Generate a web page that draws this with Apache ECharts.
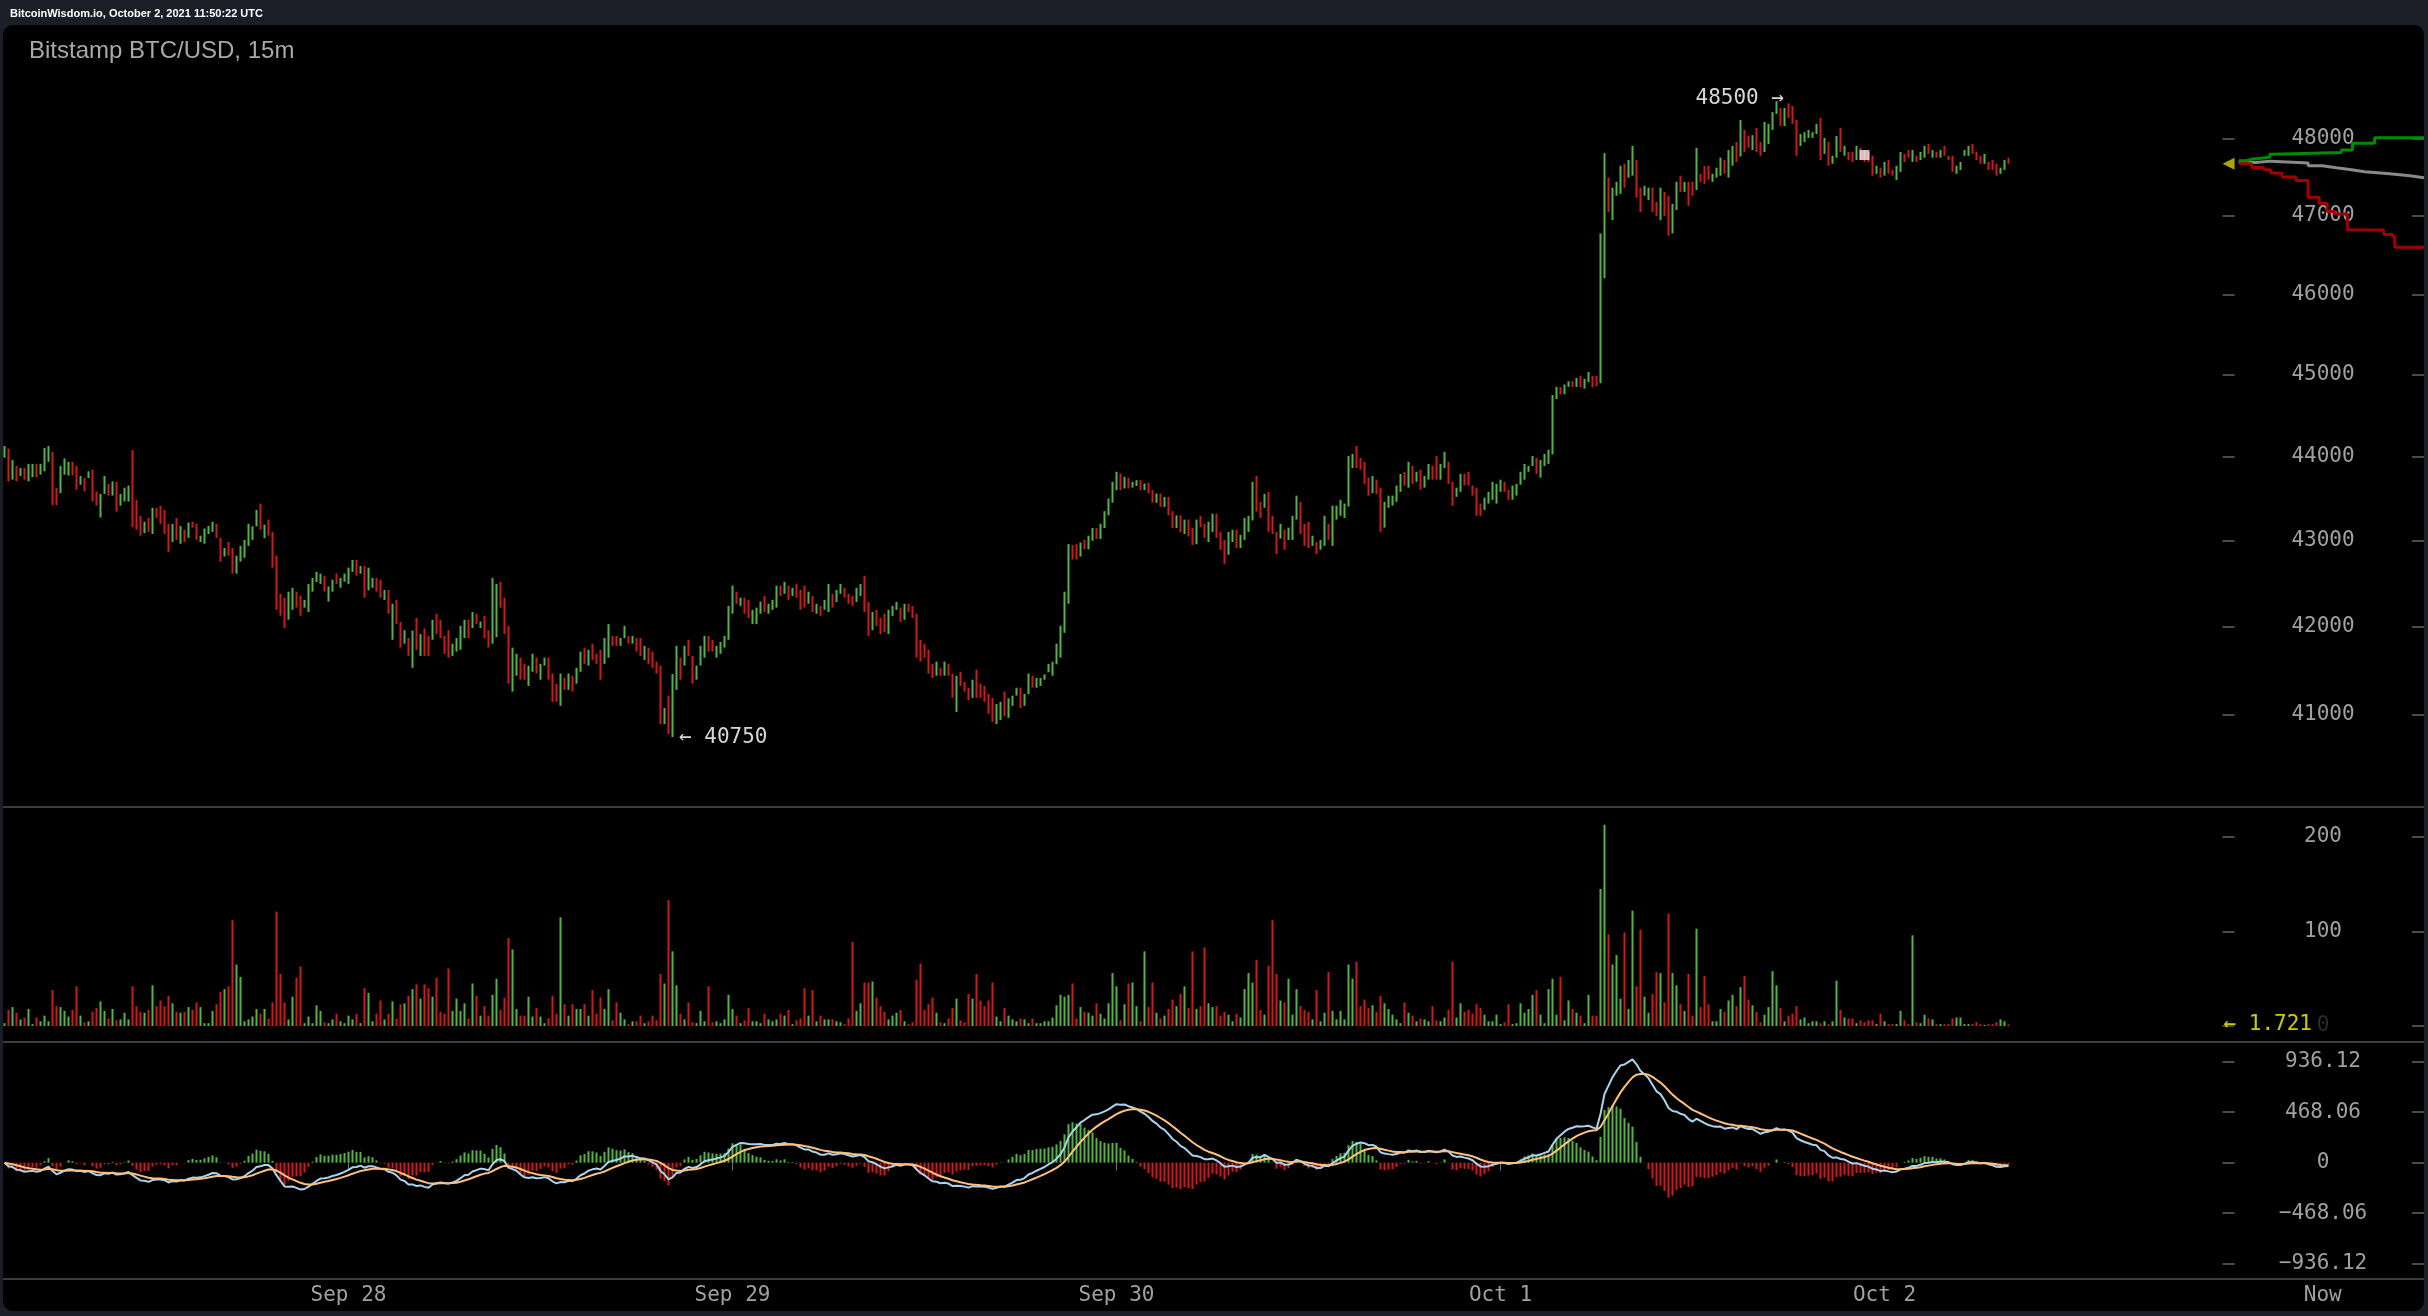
<!DOCTYPE html>
<html><head><meta charset="utf-8">
<script src="https://cdn.jsdelivr.net/npm/echarts@6/dist/echarts.min.js"></script>
<style>
html,body{margin:0;padding:0;background:#1b1e27;width:2428px;height:1316px;overflow:hidden}
#panel{position:absolute;left:3px;top:25px;width:2421px;height:1286px;background:#000;border-radius:10px}
#chart{position:absolute;left:0;top:0;width:2428px;height:1316px}
</style></head><body>
<div id="panel"></div><div id="chart"></div>
<script>
// ---------- DATA (15m candles, Bitstamp BTC/USD) ----------
const opens = [
43990,44100,43725,43890,43770,43865,43705,43755,43915,43785,
43825,43940,44060,43625,43565,43785,43775,43940,43890,43665,
43745,43745,43845,43585,43275,43555,43675,43535,43700,43415,
43465,43465,44080,43485,43295,43090,43270,43080,43390,43415,
43365,43200,42985,43270,42965,43130,43035,43225,43200,42985,
42965,43080,43105,43200,43035,42815,42985,42915,42615,42755,
42800,42940,43010,43170,43440,43030,43250,43105,42825,42380,
42335,42080,42195,42405,42360,42220,42170,42405,42515,42495,
42590,42290,42405,42615,42450,42520,42495,42635,42775,42615,
42705,42420,42450,42565,42545,42310,42425,41850,42310,42055,
41805,41870,41530,42100,
41665,41980,41895,41850,42150,42080,41895,41960,41665,41715,
41735,41870,42080,41985,42150,41985,42125,41960,41805,41880,
42520,42335,42010,41260,41440,41645,41575,41325,41485,41645,
41395,41555,41645,41465,41350,41100,41415,41280,41440,41350,
41485,41760,41555,41805,41690,41735,41575,41645,41895,41895,
41780,41870,41895,41805,41870,41870,41620,41760,41715,41600,
41555,40895,41215,40750,41280,41645,41555,41850,41665,41395,
41555,41645,41895,41850,41645,41690,41760,41850,42150,42405,
42240,42335,42310,42030,42030,42150,42355,42150,42195,42220,
42475,42380,42475,42355,42495,42425,42475,42265,42355,42150,
42240,42195,42170,42380,42285,42380,42450,42380,42355,42285,
42355,42590,42285,41960,42195,42100,42150,41915,42125,42195,
42220,42080,42265,42240,42150,41850,41805,41735,41575,41440,
41530,41440,41575,41465,41030,41485,41370,41305,41190,41510,
41350,41325,41235,41190,40895,40940,41260,40965,41100,41215,
41305,41100,41230,41440,41305,41325,41395,41480,41440,41570,
41645,41930,42265,
42950,42960,42815,43010,42900,43000,43150,43020,43150,43300,
43450,43600,43800,43620,43750,43630,43650,43720,43600,43690,
43600,43450,43560,43400,43520,43350,43150,43300,43080,43250,
43150,42960,
43295,43200,42985,43105,43320,43105,43010,42835,42985,43130,
42915,43010,43105,43240,43770,43460,43390,43580,43295,43105,
43025,43130,43010,43010,43250,43460,43200,43225,42940,42985,
42895,42940,43200,42940,43250,43295,43270,43405,43865,44130,
43985,43940,43750,43565,43725,43630,43155,43390,43415,43460,
43580,43820,43630,43890,43700,43845,43630,43725,43890,44010,
43725,43865,43940,43700,43520,43580,43795,43820,43655,43630,
43440,43365,43440,43485,43440,43580,43700,43605,43485,43535,
43665,43725,43820,43890,43985,43750,43890,43915,44030,
44700,44850,44760,44850,44920,44850,
44985,44830,44910,44985,44985,44895,46205,47495,46945,47260,
47285,47675,47495,47520,47725,47365,47260,47205,47365,47180,
46945,47310,47260,46775,47075,47520,47310,47440,47440,47335,
47545,47650,47650,47440,47495,47520,47725,47495,47650,47960,
47770,48120,48040,47855,48145,47960,47830,47935,48120,48330,
48410,48170,48470,48435,48250,47910,47960,48015,48015,48065,
48275,47805,47960,47675,47755,48145,47780,47830,47830,47725,
47885,47855,47830,47780,47545,47625,47520,47725,47595,47465,
47570,47805,47855,47700,47780,47725,47755,47935,47755,47830,
47755,47910,47780,47780,47545,47595,47780,47780,47935,47830,
47780,47675,47700,47725,47675,47545,47595,47755
];
const closes = [
44130,43705,43960,43705,43865,43725,43915,43915,43755,43915,
44105,44130,43420,43420,43890,43980,43940,43775,43605,43770,
43585,43825,43465,43415,43555,43770,43535,43705,43345,43555,
43630,43655,43160,43130,43060,43225,43105,43390,43270,43200,
43080,42870,43200,43010,43175,42985,43215,43155,43010,43060,
43145,43175,43225,43035,42755,42915,42825,42615,42825,42940,
43010,43200,43170,43365,43130,43190,43060,42685,42195,42125,
41985,42405,42450,42220,42125,42310,42495,42565,42635,42615,
42405,42465,42545,42495,42565,42615,42685,42775,42590,42705,
42335,42685,42565,42405,42335,42425,42150,42265,42030,41760,
41960,41665,41955,41735,
41915,41665,41665,42080,41915,41870,41690,41645,41805,41870,
42010,42080,41870,42170,42030,42060,41870,41760,42565,42495,
42220,41915,41350,41760,41690,41395,41395,41555,41690,41465,
41575,41645,41395,41145,41145,41465,41280,41465,41260,41530,
41715,41575,41735,41620,41575,41395,41870,42030,41780,41780,
41870,42010,41805,41895,41715,41665,41780,41575,41530,41465,
40895,41075,40785,41460,41780,41395,41780,41665,41350,41555,
41780,41895,41715,41715,41780,41825,41895,42240,42475,42265,
42335,42150,42100,42195,42220,42290,42170,42265,42310,42475,
42355,42520,42310,42450,42335,42195,42220,42405,42170,42265,
42125,42310,42495,42220,42425,42495,42335,42265,42240,42450,
42495,42170,41895,42170,42010,41915,41940,42195,42240,42285,
42055,42265,42170,42100,41645,41600,41645,41465,41415,41600,
41440,41600,41440,41190,41440,41325,41260,41165,41395,41190,
41190,41145,41010,40920,41120,41145,40985,41185,41215,41305,
41075,41235,41465,41305,41415,41415,41455,41575,41600,41805,
42010,42405,42960,
42780,42780,42980,42900,43060,43150,43020,43200,43350,43500,
43700,43820,43600,43760,43620,43700,43720,43600,43680,43560,
43450,43560,43400,43520,43300,43150,43300,43100,43250,43050,
42950,43250,
43160,43035,43225,43320,43035,42895,42730,43105,43130,42915,
43070,43270,43295,43700,43345,43270,43555,43105,43080,42845,
43200,42895,43155,43295,43535,43080,42940,42915,43060,42845,
43010,43295,43010,43415,43415,43485,43440,44010,44035,43865,
43845,43675,43535,43770,43555,43105,43460,43535,43535,43655,
43795,43655,43940,43675,43820,43605,43770,43915,43725,43725,
43915,44060,43675,43415,43630,43795,43655,43655,43535,43295,
43295,43510,43580,43700,43675,43725,43580,43485,43655,43675,
43820,43915,43890,44010,43795,43960,44035,44085,44750,
44850,44760,44880,44920,44850,44960,
44845,44950,45035,44845,44860,46775,47815,47050,47365,47440,
47650,47365,47725,47910,47235,47050,47390,47365,47050,47000,
47365,47000,46745,47155,47440,47310,47440,47130,47260,47885,
47440,47415,47465,47545,47625,47755,47545,47855,47910,47700,
48250,47830,47885,48050,47830,47780,48225,48200,48355,48500,
48170,48410,48275,48200,47780,48065,48090,48120,48090,48200,
47725,48015,47650,47780,48040,47830,47910,47725,47700,47910,
47725,47700,47700,47520,47650,47495,47700,47545,47520,47650,
47830,47700,47755,47855,47700,47830,47910,47805,47855,47755,
47855,47780,47725,47570,47650,47700,47855,47910,47805,47725,
47675,47805,47595,47595,47520,47625,47725,47675
];
const volumes = [
3,17,20,14,7,9,18,2,9,5,11,5,38,21,20,16,10,17,42,11,
4,5,15,19,26,16,8,18,6,7,14,7,42,21,15,14,17,43,21,27,
21,32,24,15,14,15,20,17,25,20,3,3,16,23,36,39,42,112,65,52,
5,7,10,18,13,18,8,25,121,55,25,7,31,51,63,3,10,3,22,16,
4,3,7,13,5,3,11,7,13,3,40,35,5,13,27,7,13,26,8,23,
24,32,39,44,29,44,40,31,51,15,13,61,16,29,16,24,8,45,32,11,
21,11,33,50,17,30,93,81,18,11,11,31,10,19,10,3,8,32,13,115,
23,11,23,18,18,23,11,38,13,30,18,39,6,25,14,7,2,5,5,11,
3,5,11,6,55,45,133,79,43,13,7,25,4,3,16,5,42,4,5,3,
7,33,18,11,3,6,19,5,5,3,13,7,5,7,13,11,17,2,6,8,
40,11,38,5,11,7,7,7,5,4,2,8,89,16,24,46,46,47,30,21,
15,7,11,14,17,5,2,4,49,66,17,23,30,14,4,3,8,19,29,6,
4,34,29,55,27,21,27,46,10,5,19,11,
7,5,8,7,3,8,3,3,5,5,9,22,33,31,33,45,8,20,15,14,
11,24,13,8,24,56,42,6,23,45,46,21,5,79,20,46,14,8,11,18,
28,21,34,42,19,79,18,21,83,24,20,21,11,15,12,5,13,9,39,56,
46,70,17,12,64,112,55,27,25,50,12,39,21,17,15,7,38,5,14,57,
16,7,16,7,65,50,68,21,28,19,22,15,32,24,18,12,7,3,25,14,
11,5,8,7,5,21,6,5,9,17,68,9,24,15,17,13,23,19,12,5,
5,12,2,4,23,2,3,24,14,18,33,38,12,3,39,50,12,52,6,27,
18,14,11,3,33,11,11,145,213,97,65,75,29,99,18,122,42,102,31,14,
34,57,56,25,119,56,43,23,16,55,11,103,20,53,23,5,5,18,15,27,
33,21,41,53,28,22,15,4,12,20,58,43,19,5,11,13,21,7,9,3,
5,5,3,5,2,5,48,17,9,8,8,3,6,4,6,6,2,13,5,2,
2,2,16,6,2,96,4,3,12,8,7,2,2,2,2,8,9,9,2,2,
2,4,2,1,2,2,4,7,5,1.721
];
const dayLabels = ['Sep 28','Sep 29','Sep 30','Oct 1','Oct 2'];
const dayIndex  = [86, 182, 278, 374, 470];
const priceTicks = [41000,42000,43000,44000,45000,46000,47000,48000];
const volumeTicks = [0,100,200];
const macdTicks = [-936.12,-468.06,0,468.06,936.12];
// order-book depth (cumulative depth units, price)
const askSteps = [[16,47714],[24,47736],[29,47762],[47,47800],[51,47822],[118,47857],[129,47944],[151,48017],[200,48017]];
const midSteps = [[16,47692],[33,47710],[48,47684],[85,47649],[99,47623],[113,47597],[128,47571],[141,47545],[166,47519],[186,47493],[200,47493]];
const bidSteps = [[16,47675],[29,47627],[41,47597],[48,47554],[59,47502],[73,47459],[85,47240],[96,47163],[104,47055],[111,47025],[124,46819],[160,46760],[169,46733],[171,46597],[200,46597]];
const tradeMarker = {index: 465, price: 47790};

// ---------- BUILD ----------
const GREEN = '#4fb83b', RED = '#d41818';
const MONO = 'DejaVu Sans Mono';
const SANS = "'Liberation Sans', Arial, sans-serif";
const N = 555;
const cats = Array.from({length: N}, (_, i) => String(i));
const lg = v => Math.log10(v);
const candleData = opens.map((o, i) => {
  const c = closes[i];
  return [lg(o), lg(c), lg(Math.min(o, c)), lg(Math.max(o, c))];
});
const up = opens.map((o, i) => closes[i] >= o);
function ema(arr, n) { const k = 2 / (n + 1); let e = arr[0]; return arr.map((v, i) => (e = i === 0 ? v : v * k + e * (1 - k))); }
const e12 = ema(closes, 12), e26 = ema(closes, 26);
const dif = e12.map((v, i) => v - e26[i]);
const dea = ema(dif, 9);
const hist = dif.map((v, i) => 2 * (v - dea[i]));

const P_MIN = 4.601812, P_MAX = 4.694796;
const V_MAX = 231.7;
const M_MIN = -1077.9, M_MAX = 1118.7;

const tickStyle = {lineStyle: {color: '#4a4a4a', width: 2}};
const labelBase = {color: '#a0a0a0', fontFamily: MONO, fontSize: 21, align: 'center', margin: 100.5};

function leftAxis(gi, min, max, ticks, fmt) {
  return {gridIndex: gi, type: 'value', position: 'right', min, max,
    axisLine: {show: false}, splitLine: {show: false},
    axisTick: {show: true, length: 12, customValues: ticks, ...tickStyle},
    axisLabel: Object.assign({show: true, customValues: ticks, formatter: fmt}, labelBase)};
}
function edgeAxis(gi, min, max, ticks) {
  return {gridIndex: gi, type: 'value', position: 'right', offset: 189.5, min, max,
    axisLine: {show: false}, splitLine: {show: false},
    axisLabel: {show: true, customValues: ticks, formatter: () => '', color: 'rgba(0,0,0,0)'},
    axisTick: {show: true, length: 12, customValues: ticks, ...tickStyle}};
}
function hiddenAxis(gi, min, max) {
  return {gridIndex: gi, type: 'value', min, max, show: false};
}
const lgTicks = priceTicks.map(lg);
const gridCommon = {outerBoundsMode: 'none', containLabel: false};

const option = {
  animation: false,
  backgroundColor: 'transparent',
  title: [
    {text: 'BitcoinWisdom.io, October 2, 2021 11:50:22 UTC', left: 10, top: 8, padding: 0,
     textStyle: {color: '#ffffff', fontFamily: SANS, fontSize: 11, fontWeight: 'bold', lineHeight: 12}},
    {text: 'Bitstamp BTC/USD, 15m', left: 29, top: 39, padding: 0,
     textStyle: {color: '#a8a8a8', fontFamily: SANS, fontSize: 24, fontWeight: 'normal', lineHeight: 24}}
  ],
  grid: [
    Object.assign({left: 2.5, top: 25, width: 2220, height: 782}, gridCommon),
    Object.assign({left: 2.5, top: 807, width: 2220, height: 219}, gridCommon),
    Object.assign({left: 2.5, top: 1042, width: 2220, height: 237}, gridCommon),
    Object.assign({left: 2222.5, top: 25, width: 201.5, height: 782}, gridCommon),
    Object.assign({left: 2222.5, top: 807, width: 201.5, height: 219}, gridCommon),
    Object.assign({left: 2222.5, top: 1042, width: 201.5, height: 237}, gridCommon)
  ],
  xAxis: [
    {gridIndex: 0, type: 'category', data: cats, show: false},
    {gridIndex: 1, type: 'category', data: cats, show: false},
    {gridIndex: 2, type: 'category', data: cats, position: 'bottom',
     axisLine: {show: false}, splitLine: {show: false},
     axisTick: {show: true, alignWithLabel: true, length: 8, interval: (i) => dayIndex.includes(i), lineStyle: {color: '#777', width: 1}},
     axisLabel: {show: true, interval: (i) => dayIndex.includes(i), margin: 6, color: '#a0a0a0', fontFamily: MONO, fontSize: 21,
       formatter: (v) => { const k = dayIndex.indexOf(Number(v)); return k >= 0 ? dayLabels[k] : ''; }}},
    {gridIndex: 3, type: 'value', min: 0, max: 200, show: false},
    {gridIndex: 4, type: 'value', min: 0, max: 200, show: false},
    {gridIndex: 5, type: 'value', min: 0, max: 200, position: 'bottom',
     axisLine: {show: false}, axisTick: {show: false}, splitLine: {show: false},
     axisLabel: {show: true, customValues: [99.5], formatter: () => 'Now', margin: 6, color: '#a0a0a0', fontFamily: MONO, fontSize: 21}}
  ],
  yAxis: [
    leftAxis(0, P_MIN, P_MAX, lgTicks, v => String(Math.round(Math.pow(10, v)))),
    leftAxis(1, 0, V_MAX, volumeTicks, v => v === 0 ? '{dim|0}' : String(v)),
    leftAxis(2, M_MIN, M_MAX, macdTicks, v => v === 0 ? '0' : (v < 0 ? '\u2212' + Math.abs(v).toFixed(2) : v.toFixed(2))),
    hiddenAxis(3, P_MIN, P_MAX),
    hiddenAxis(4, 0, V_MAX),
    hiddenAxis(5, M_MIN, M_MAX),
    edgeAxis(0, P_MIN, P_MAX, lgTicks),
    edgeAxis(1, 0, V_MAX, volumeTicks),
    edgeAxis(2, M_MIN, M_MAX, macdTicks)
  ],
  graphic: [
    {type: 'line', shape: {x1: 3, y1: 807, x2: 2424, y2: 807}, style: {stroke: '#3c3c3c', lineWidth: 2}, z: 100},
    {type: 'line', shape: {x1: 3, y1: 1042, x2: 2424, y2: 1042}, style: {stroke: '#3c3c3c', lineWidth: 2}, z: 100},
    {type: 'line', shape: {x1: 3, y1: 1279, x2: 2424, y2: 1279}, style: {stroke: '#3c3c3c', lineWidth: 2}, z: 100}
  ],
  series: [
    {type: 'candlestick', xAxisIndex: 0, yAxisIndex: 0, data: candleData, barWidth: 2,
     itemStyle: {color: GREEN, color0: RED, borderColor: GREEN, borderColor0: RED, borderWidth: 0},
     markPoint: {
       symbol: 'circle', symbolSize: 1, itemStyle: {color: 'rgba(0,0,0,0)'},
       label: {color: '#d6d6d6', fontFamily: MONO, fontSize: 21},
       data: [
         {type: 'max', valueDim: 'highest', label: {position: 'left', distance: 0, offset: [8, -3], formatter: p => Math.round(Math.pow(10, p.value)) + ' \u2192'}},
         {type: 'min', valueDim: 'lowest', label: {position: 'right', distance: 6, formatter: p => '\u2190 ' + Math.round(Math.pow(10, p.value))}},
         {coord: [tradeMarker.index, lg(tradeMarker.price)], symbol: 'rect', symbolSize: 10,
          itemStyle: {color: 'rgba(255,255,255,0.75)'}, label: {show: false}}
       ]
     }},
    {type: 'bar', xAxisIndex: 1, yAxisIndex: 1, barWidth: 2,
     data: volumes.map((v, i) => ({value: v, itemStyle: {color: up[i] ? GREEN : RED}}))},
    {type: 'bar', xAxisIndex: 2, yAxisIndex: 2, barWidth: 2,
     data: hist.map(v => ({value: v, itemStyle: {color: v >= 0 ? GREEN : RED}}))},
    {type: 'line', xAxisIndex: 2, yAxisIndex: 2, data: dif, showSymbol: false, symbol: 'none',
     lineStyle: {color: '#a9d4ec', width: 2}},
    {type: 'line', xAxisIndex: 2, yAxisIndex: 2, data: dea, showSymbol: false, symbol: 'none',
     lineStyle: {color: '#ffc07c', width: 2}},
    {type: 'line', xAxisIndex: 3, yAxisIndex: 3, step: 'end', symbol: 'none',
     data: midSteps.map(d => [d[0], lg(d[1])]), lineStyle: {color: '#8a8a8a', width: 3}},
    {type: 'line', xAxisIndex: 3, yAxisIndex: 3, step: 'end', symbol: 'none',
     data: askSteps.map(d => [d[0], lg(d[1])]), lineStyle: {color: '#008c00', width: 3}},
    {type: 'line', xAxisIndex: 3, yAxisIndex: 3, step: 'end', symbol: 'none',
     data: bidSteps.map(d => [d[0], lg(d[1])]), lineStyle: {color: '#a00000', width: 3}},
    {type: 'scatter', xAxisIndex: 3, yAxisIndex: 3, symbol: 'triangle', symbolRotate: 90, symbolSize: 12,
     itemStyle: {color: '#d2d200'}, data: [[6, lg(closes[closes.length - 1])]]},
    {type: 'scatter', xAxisIndex: 4, yAxisIndex: 4, symbolSize: 0, z: 10,
     data: [[0, volumes[volumes.length - 1]]],
     label: {show: true, position: 'right', distance: 1, color: '#ffff00', fontFamily: MONO, fontSize: 21,
       formatter: p => '\u2190 ' + p.value[1]}}
  ]
};
option.yAxis[1].axisLabel.rich = {dim: {color: '#2c2c2c', fontFamily: MONO, fontSize: 21}};
const chart = echarts.init(document.getElementById('chart'), null, {renderer: 'canvas'});
chart.setOption(option);
</script>
</body></html>
